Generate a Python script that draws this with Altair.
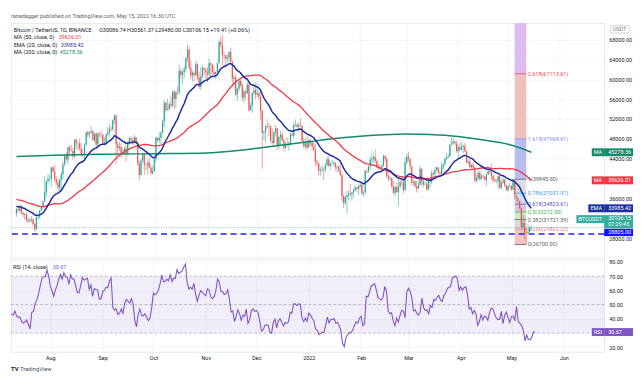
import altair as alt
import numpy as np
import pandas as pd

FONT = "Roboto"
FS = 5.5
INK = "#131722"
MUTED = "#5d606b"
UP = "#26a69a"
DOWN = "#ef5350"
MA50_C = "#f23645"
EMA20_C = "#1b2f9e"
MA200_C = "#168a6c"
RSI_C = "#7e57c2"

W = 597
H_PRICE = 236
H_RSI = 93

# ---------------- data ----------------
# closes 2021-05-20 .. 2021-07-08 (indicator warm-up only, not drawn)
warmup_close = [40600, 37290, 37520, 34660, 38800, 38320, 39240, 38430, 35660, 34600, 35660, 37290,
                36690, 37570, 39250, 36850, 35520, 35800, 33550, 33400, 37390, 36690, 37340, 35550,
                39020, 40520, 40140, 38350, 38090, 35820, 35480, 35600, 31680, 32510, 33680, 34660,
                31590, 32280, 34700, 34490, 35910, 35040,
                33540, 33820, 34700, 35290, 33690, 34220, 33860, 32880]

# daily candles 2021-07-09 .. 2022-05-15
close_jul = [33815, 33500, 34260, 33090, 32730, 32820, 31780, 31390, 31530, 31780, 30840, 29790, 32140, 32290, 33590, 34270, 35400, 37280, 39460, 40020, 40020, 42230, 41460]
high_jul = [34100, 34260, 34600, 34680, 33340, 33100, 33180, 32250, 31950, 32430, 31900, 31050, 32860, 32580, 33650, 34500, 35400, 40550, 39540, 40900, 40630, 42320, 42600]
low_jul = [32260, 33000, 33330, 32700, 32200, 31600, 31130, 31020, 31170, 31110, 30400, 29280, 29480, 31700, 31900, 33400, 33880, 35250, 36400, 38770, 39200, 38300, 41050]

close_aug = [39850, 39150, 38200, 39720, 40870, 42830, 44610, 43830, 46290, 45600, 45560, 44430, 47830, 47100, 47050, 45990, 44690, 44710, 46760, 49340, 48870, 49290, 49510, 47710, 48990, 46840, 49070, 48900, 48830, 47050, 47160]
high_aug = [42600, 40450, 39780, 39970, 41400, 43390, 44700, 45310, 46450, 46700, 46780, 46220, 47890, 48140, 47400, 48050, 47160, 46000, 47080, 49380, 49760, 49500, 50500, 49880, 49240, 49350, 49150, 49300, 49630, 48900, 48250]
low_aug = [39420, 38690, 37640, 37500, 37330, 39850, 42450, 43260, 42850, 44700, 45350, 43770, 44240, 45970, 45520, 45660, 44400, 44200, 43930, 46630, 48300, 48050, 49030, 47600, 47150, 46300, 46370, 48350, 48000, 46850, 46700]

close_sep = [48850, 49280, 50030, 49940, 51790, 52700, 46860, 46080, 46370, 44850, 45160, 46030, 44960, 47110, 48120, 47750, 47300, 48310, 47260, 43010, 40700, 43580, 44880, 42840, 42700, 43190, 42170, 41030, 41520, 43820]
high_sep = [49050, 50400, 51000, 50560, 51900, 52920, 52950, 47360, 47400, 47050, 45980, 46450, 46900, 47250, 48470, 48500, 48150, 48820, 48370, 47330, 43640, 44000, 44980, 45200, 42970, 43920, 44350, 42800, 42600, 44100]
low_sep = [46560, 48640, 48380, 49400, 49500, 50950, 42840, 44400, 45500, 44140, 44730, 44760, 43370, 44650, 46700, 47020, 46750, 47050, 46850, 42500, 39600, 40570, 43100, 40680, 41650, 40800, 42100, 40880, 40750, 41400]

close_oct = [48140, 47710, 48200, 49220, 51470, 55320, 53810, 53970, 54950, 54660, 57470, 56000, 57370, 57360, 61670, 60870, 61530, 62040, 64280, 66000, 62210, 60690, 61290, 60860, 63080, 60330, 58460, 60590, 62250, 61880, 61320]
high_oct = [48500, 48360, 49300, 49500, 51880, 55750, 55330, 56100, 55480, 56560, 57840, 57680, 57780, 58530, 62900, 62350, 61720, 62700, 64490, 67000, 66640, 63730, 61750, 61490, 63710, 63290, 61500, 62500, 62980, 62360, 62400]
low_oct = [43290, 47420, 47100, 46940, 49050, 50400, 53360, 53650, 53700, 54110, 54410, 53880, 54180, 56820, 56850, 60150, 58960, 60100, 61320, 63480, 62000, 60000, 59650, 59500, 60650, 59820, 58000, 57820, 60170, 60720, 59950]

close_nov = [61000, 63230, 62940, 61440, 61010, 61530, 63270, 67530, 66940, 64880, 64770, 64130, 64380, 65520, 63590, 60100, 60360, 56900, 58060, 59700, 58680, 56280, 57540, 57160, 58960, 53730, 54720, 57270, 57800, 56950]
high_nov = [62440, 64270, 63520, 63130, 62600, 61560, 63290, 67790, 68530, 69000, 65600, 65000, 65000, 65550, 66400, 63600, 60800, 60980, 58350, 59850, 60000, 59280, 58000, 57850, 59390, 59180, 55280, 57450, 58870, 59250]
low_nov = [59400, 60620, 60380, 60720, 60740, 60080, 61400, 63100, 66380, 62820, 64100, 62280, 63360, 63600, 63400, 58570, 58370, 56470, 55600, 57460, 58500, 55600, 55320, 55830, 57000, 53500, 53610, 53260, 56720, 55880]

close_dec = [57180, 56480, 53600, 49150, 49400, 50440, 50590, 50470, 47540, 47140, 49390, 50100, 46700, 48340, 48860, 47630, 46130, 46830, 46680, 46910, 48920, 48620, 50800, 50820, 50420, 50780, 50700, 47540, 46460, 47120, 46220]
high_dec = [59040, 57460, 57640, 53850, 49700, 50880, 51940, 51200, 50800, 50100, 49490, 50770, 50200, 48700, 49500, 49450, 47980, 47350, 48300, 47540, 49330, 49580, 51380, 51870, 51150, 51280, 52090, 50700, 48120, 47900, 48550]
low_dec = [56460, 55840, 51680, 42000, 47730, 47100, 50040, 48600, 47320, 46850, 46620, 48630, 45670, 46000, 46550, 47510, 45460, 45930, 46400, 45550, 46630, 48420, 48050, 50400, 50180, 49420, 50450, 47320, 46100, 45900, 45680]

close_jan = [47720, 47290, 46440, 45830, 43430, 43080, 41550, 41680, 41860, 41820, 42730, 43900, 42560, 43070, 43080, 43200, 42250, 42370, 41660, 40680, 36450, 35070, 36280, 36650, 36950, 36810, 37160, 37710, 38170, 37920, 38480]
high_jan = [47950, 47990, 47570, 47500, 47070, 43750, 43150, 42300, 42790, 42250, 43100, 44320, 44460, 43440, 43800, 43480, 43180, 42680, 42580, 43500, 41100, 36840, 36500, 37550, 37550, 38920, 37230, 38000, 38720, 38360, 38740]
low_jan = [46210, 46650, 45700, 45500, 42500, 42430, 40610, 40500, 41200, 39650, 41270, 42450, 42310, 41730, 42570, 42600, 41540, 41250, 41140, 40550, 35440, 34010, 34600, 32920, 35700, 36230, 35500, 36150, 37350, 37350, 36630]

close_feb = [38740, 36950, 37150, 41500, 41410, 42410, 43840, 44040, 44370, 43510, 42390, 42210, 42050, 42540, 44580, 43960, 40540, 40000, 40120, 38380, 37070, 38280, 37260, 38330, 39220, 39120, 37700, 43190]
high_feb = [39270, 38850, 37390, 41770, 41950, 42650, 44500, 45490, 44800, 45820, 43920, 43000, 42760, 42880, 44770, 44580, 44200, 40960, 40460, 40150, 39490, 38440, 39250, 39840, 39690, 40300, 39850, 44230]
low_feb = [38000, 36600, 36250, 36970, 40950, 41120, 41650, 42670, 43120, 43200, 42000, 41740, 41860, 41570, 42430, 43310, 40080, 39450, 39640, 38000, 36800, 36350, 37040, 34320, 38000, 38570, 37000, 37450]

close_mar = [44420, 43920, 42450, 39150, 39400, 38420, 37990, 38730, 41940, 39440, 38730, 38810, 37780, 39670, 39280, 41110, 40920, 41760, 42200, 41260, 41000, 42360, 42890, 43960, 44350, 44500, 46820, 47130, 47430, 47060, 45510]
high_mar = [44950, 45400, 44100, 42500, 39720, 39680, 39550, 39380, 42600, 42050, 40240, 39490, 39310, 39950, 39890, 41720, 41480, 42330, 42400, 42300, 41550, 43360, 43000, 44220, 45100, 44820, 46920, 48190, 48100, 47700, 47600]
low_mar = [42800, 43330, 41830, 38550, 38580, 38090, 37160, 37850, 38660, 38540, 38220, 38660, 37580, 37600, 38100, 38830, 40500, 40130, 41500, 40900, 40500, 40890, 41750, 42560, 43600, 44070, 44420, 46660, 46950, 46550, 45200]

close_apr = [46280, 45810, 46410, 46580, 45500, 43170, 43440, 42250, 42750, 42160, 39530, 40070, 41150, 39940, 40550, 40380, 39680, 40800, 41490, 41360, 40480, 39710, 39450, 39450, 40430, 38110, 39240, 39740, 38600, 37630]
high_apr = [46720, 47210, 47440, 46890, 47200, 45510, 43900, 43970, 42800, 43420, 42410, 40700, 41560, 41500, 40870, 40710, 40600, 41000, 41760, 42200, 42980, 40800, 39980, 39920, 40600, 40800, 39450, 40370, 39900, 38790]
low_apr = [44200, 45630, 45520, 45120, 45350, 43120, 42730, 42110, 42130, 42000, 39200, 39250, 39540, 39560, 39770, 40020, 39550, 38540, 40570, 40820, 39770, 39180, 39290, 39000, 38200, 37700, 37880, 38880, 38200, 37580]

close_may = [38470, 38520, 37720, 39690, 36550, 36010, 35470, 34060, 30100, 31010, 29080, 28940, 29280, 30086.74, 30106.15]
high_may = [38670, 39170, 38650, 39980, 39845, 36650, 36130, 35500, 34240, 32660, 32160, 30030, 30980, 30350, 30561.37]
low_may = [37390, 38050, 37500, 37670, 35560, 35260, 34750, 33710, 30030, 29730, 27780, 26700, 28700, 28650, 29480]

close = close_jul + close_aug + close_sep + close_oct + close_nov + close_dec + close_jan + close_feb + close_mar + close_apr + close_may
high = high_jul + high_aug + high_sep + high_oct + high_nov + high_dec + high_jan + high_feb + high_mar + high_apr + high_may
low = low_jul + low_aug + low_sep + low_oct + low_nov + low_dec + low_jan + low_feb + low_mar + low_apr + low_may

# 200-day MA
ma200_dates = ["2021-07-09", "2021-08-01", "2021-09-01", "2021-10-01", "2021-11-01", "2021-11-15", "2021-12-01",
               "2021-12-15", "2022-01-01", "2022-01-15", "2022-02-01", "2022-02-15", "2022-03-01", "2022-03-15",
               "2022-04-01", "2022-04-15", "2022-05-01", "2022-05-08", "2022-05-15"]
ma200_vals = [44450, 44700, 44900, 45000, 45150, 45500, 46100, 46700, 47400, 48000, 48500, 48800, 48950, 48850,
              48450, 47800, 46900, 46200, 45278.36]

# Fibonacci drawing
fib_start, fib_end = "2022-05-05", "2022-05-12"
fib_names = ["0", "0.236", "0.382", "0.5", "0.618", "0.786", "1", "1.618", "2.618", "3.618"]
fib_prices = [26700.00, 29802.22, 31721.39, 33272.50, 34823.61, 37031.97, 39845.00, 47968.61, 61113.61, 74258.61]
fib_line_colors = ["#5d606b", "#ef7d86", "#5d606b", "#4caf50", "#5e4bb0", "#3d9be0", "#5d606b", "#8f92e8", "#e8474f"]
fib_fills = ["#f3c3c4", "#dadada", "#c9eac9", "#cfc9e9", "#c4e1f5", "#dddddd", "#b9bcef", "#f0c0c1", "#dcbdf0"]

support_price = 28805.00
last_price = 30106.15
countdown = "07:29:45"
ma50_last, ema20_last, ma200_last = 39626.01, 33985.42, 45278.36
rsi_last = 30.67
rsi_levels = [70, 50, 30]
rsi_band = (30, 70)

title_text = "ranadagger published on TradingView.com, May 15, 2022 16:30 UTC"
symbol_text = "Bitcoin / TetherUS, 1D, BINANCE"
ohlc_text = "O30086.74 H30561.37 L29480.00 C30106.15 +19.41 (+0.06%)"

# ---------------- derived series ----------------
all_close = warmup_close + close
idx = pd.date_range("2021-05-20", periods=len(all_close), freq="D")
s = pd.Series(all_close, index=idx, dtype=float)
ema20 = s.ewm(span=20, adjust=False).mean()
ma50 = s.rolling(50).mean()
dlt = s.diff()
gain = dlt.clip(lower=0)
loss = (-dlt).clip(lower=0)
rs = gain.ewm(alpha=1 / 14, adjust=False).mean() / loss.ewm(alpha=1 / 14, adjust=False).mean()
rsi = 100 - 100 / (1 + rs)
opens = s.shift(1)

n = len(close)
df = pd.DataFrame({
    "date": idx[-n:].strftime("%Y-%m-%d"),
    "open": opens.values[-n:],
    "close": close,
    "high": high,
    "low": low,
    "ema20": ema20.values[-n:],
    "ma50": ma50.values[-n:],
    "rsi": rsi.values[-n:],
})
df["high"] = df[["high", "open", "close"]].max(axis=1)
df["low"] = df[["low", "open", "close"]].min(axis=1)
df["dir"] = np.where(df["close"] >= df["open"], "up", "down")

ma200_df = pd.DataFrame({"date": ma200_dates, "ma200": ma200_vals})

fib_zone_df = pd.DataFrame({
    "x0": [fib_start] * 9, "x1": [fib_end] * 9,
    "lo": fib_prices[:-1], "hi": fib_prices[1:], "c": fib_fills,
})
fib_line_df = pd.DataFrame({
    "x0": [fib_start] * 9, "x1": [fib_end] * 9,
    "p": fib_prices[:-1], "c": fib_line_colors,
    "t": [f"{nm}({p:.2f})" for nm, p in zip(fib_names[:-1], fib_prices[:-1])],
})

# ---------------- scales / axes ----------------
x_dom = [alt.DateTime(year=2021, month=7, date=8, hours=16, minutes=48, utc=True),
         alt.DateTime(year=2022, month=6, date=24, hours=21, minutes=36, utc=True)]
xscale = alt.Scale(type="utc", domain=x_dom)
month_ticks = [alt.DateTime(year=y, month=m, date=1, utc=True)
               for y, m in [(2021, 8), (2021, 9), (2021, 10), (2021, 11), (2021, 12), (2022, 1),
                            (2022, 2), (2022, 3), (2022, 4), (2022, 5), (2022, 6)]]
label_expr = "utcFormat(datum.value, '%m') == '01' ? utcFormat(datum.value, '%Y') : utcFormat(datum.value, '%b')"

px_axis = alt.Axis(values=month_ticks, labels=False, ticks=False, domain=False, grid=True, title=None, zindex=0)
rx_axis = alt.Axis(values=month_ticks, labelExpr=label_expr, ticks=False, domain=False, grid=True, title=None,
                   labelPadding=4, labelAngle=0, labelOverlap=False, zindex=0)

yscale = alt.Scale(domain=[24060, 71320], nice=False, zero=False)
py_axis = alt.Axis(orient="right", values=list(range(28000, 68001, 4000)), format=".2f", ticks=False,
                   domain=False, grid=True, title=None, labelPadding=4.5, zindex=0)
rscale = alt.Scale(domain=[16.7, 81.6], nice=False, zero=False)
ry_axis = alt.Axis(orient="right", values=[20, 30, 40, 50, 60, 70, 80], format=".2f", ticks=False,
                   domain=False, grid=True, title=None, labelPadding=4.5, zindex=0)


def PX(f="date"):
    return alt.X(f"{f}:T", scale=xscale, axis=px_axis)


def RX(f="date"):
    return alt.X(f"{f}:T", scale=xscale, axis=rx_axis)


def PY(f):
    return alt.Y(f"{f}:Q", scale=yscale, axis=py_axis)


def RY(f):
    return alt.Y(f"{f}:Q", scale=rscale, axis=ry_axis)


def txt(s_, x, y, color=INK, size=FS, weight="normal", align="left"):
    return alt.Chart(pd.DataFrame({"t": [s_]})).mark_text(
        align=align, baseline="middle", font=FONT, fontSize=size, fontWeight=weight, color=color
    ).encode(text="t:N", x=alt.value(x), y=alt.value(y))


def pbox(price, x0, x1, color, h=8, yoff=0.0, Yf=PY):
    return alt.Chart(pd.DataFrame({"p": [price]})).mark_tick(
        orient="horizontal", size=x1 - x0, thickness=h, color=color, opacity=1, yOffset=yoff
    ).encode(x=alt.value((x0 + x1) / 2), y=Yf("p"))


def ptxt(price, label, x, color="white", yoff=0.0, Yf=PY, align="left"):
    return alt.Chart(pd.DataFrame({"p": [price], "t": [label]})).mark_text(
        align=align, baseline="middle", font=FONT, fontSize=FS, color=color, dy=yoff
    ).encode(x=alt.value(x), y=Yf("p"), text="t:N")


# ---------------- price pane ----------------
base = alt.Chart(df)
dir_color = alt.Color("dir:N", scale=alt.Scale(domain=["up", "down"], range=[UP, DOWN]), legend=None)

fib_zones = alt.Chart(fib_zone_df).mark_rect(clip=True).encode(
    x=PX("x0"), x2="x1", y=PY("lo"), y2="hi", color=alt.Color("c:N", scale=None))
fib_lines = alt.Chart(fib_line_df).mark_rule(strokeWidth=0.8).encode(
    x=PX("x0"), x2="x1", y=PY("p"), color=alt.Color("c:N", scale=None))
fib_labels = alt.Chart(fib_line_df).mark_text(align="left", baseline="middle", dx=1.5, font=FONT, fontSize=FS).encode(
    x=PX("x1"), y=PY("p"), text="t:N", color=alt.Color("c:N", scale=None))

support = alt.Chart(pd.DataFrame({"p": [support_price]})).mark_rule(
    color="#2424f0", strokeWidth=1.6, strokeDash=[6, 4]).encode(y=PY("p"))
lastline = alt.Chart(pd.DataFrame({"p": [last_price]})).mark_rule(
    color=UP, strokeWidth=0.6, strokeDash=[1, 1.5]).encode(y=PY("p"))

wick = base.mark_rule(strokeWidth=0.55).encode(x=PX(), y=PY("low"), y2="high", color=dir_color)
body = base.mark_bar(size=1.15).encode(x=PX(), y=PY("open"), y2="close", color=dir_color)

ma200_line = alt.Chart(ma200_df).mark_line(color=MA200_C, strokeWidth=1.5, interpolate="monotone").encode(
    x=PX(), y=PY("ma200"))
ma50_line = base.mark_line(color=MA50_C, strokeWidth=1.3).encode(x=PX(), y=PY("ma50"))
ema_line = base.mark_line(color=EMA20_C, strokeWidth=1.5).encode(x=PX(), y=PY("ema20"))

price_texts = [
    txt(title_text, 0, -6.7, color=MUTED),
    txt(symbol_text, 2.7, 6.6),
    txt(ohlc_text, 88.7, 6.6),
    txt("MA (50, close, 0)", 2.7, 14.0), txt(f"{ma50_last:.2f}", 48, 14.0, color=MA50_C),
    txt("EMA (20, close, 0)", 2.7, 21.6), txt(f"{ema20_last:.2f}", 50, 21.6, color=EMA20_C),
    txt("MA (200, close, 0)", 2.7, 29.3), txt(f"{ma200_last:.2f}", 49, 29.3, color=MA200_C),
]

AX = W  # right edge of plot
VR = 626  # right end of value boxes
right_labels = [
    pbox(ma200_last, AX - 12.5, AX, MA200_C), pbox(ma200_last, AX, VR, MA200_C),
    ptxt(ma200_last, "MA", AX - 6.25, align="center"), ptxt(ma200_last, f"{ma200_last:.2f}", AX + 4),
    pbox(ma50_last, AX - 12.5, AX, MA50_C), pbox(ma50_last, AX, VR, MA50_C),
    ptxt(ma50_last, "MA", AX - 6.25, align="center"), ptxt(ma50_last, f"{ma50_last:.2f}", AX + 4),
    pbox(ema20_last, AX - 16, AX, EMA20_C), pbox(ema20_last, AX, VR, EMA20_C),
    ptxt(ema20_last, "EMA", AX - 8, align="center"), ptxt(ema20_last, f"{ema20_last:.2f}", AX + 4),
    pbox(last_price, AX - 28, AX, "#35ad9c", h=8, yoff=-8.5), pbox(last_price, AX, VR, "#35ad9c", h=13, yoff=-6),
    ptxt(last_price, "BTCUSDT", AX - 14, align="center", yoff=-8.5),
    ptxt(last_price, f"{last_price:.2f}", AX + 4, yoff=-9.2), ptxt(last_price, countdown, AX + 4, yoff=-3.4),
    pbox(support_price, AX, VR, "#1010ff", h=7.5, yoff=-1.6),
    ptxt(support_price, f"{support_price:.2f}", AX + 4, yoff=-1.6),
]
usdt_box = alt.Chart(pd.DataFrame({"t": ["USDT"]})).mark_rect(
    fill="white", stroke="#b2b5be", strokeWidth=0.6, cornerRadius=1.5).encode(
    x=alt.value(AX + 6), x2=alt.value(AX + 25), y=alt.value(2.6), y2=alt.value(10))
usdt_txt = txt("USDT", AX + 15.5, 6.3, color="#787b86", align="center")

price = alt.layer(
    fib_zones, fib_lines, fib_labels, support, lastline, wick, body,
    ma200_line, ma50_line, ema_line, *price_texts, *right_labels, usdt_box, usdt_txt
).resolve_scale(color="independent").properties(width=W, height=H_PRICE)

# ---------------- RSI pane ----------------
band = alt.Chart(pd.DataFrame({"lo": [rsi_band[0]], "hi": [rsi_band[1]]})).mark_rect(
    color=RSI_C, opacity=0.1).encode(y=RY("lo"), y2="hi", x=alt.value(0), x2=alt.value(W))
lvl = alt.Chart(pd.DataFrame({"v": rsi_levels})).mark_rule(
    color="#9598a1", strokeWidth=0.6, strokeDash=[2.5, 2.5]).encode(y=RY("v"))
rsi_line = alt.Chart(df).mark_line(color=RSI_C, strokeWidth=1.1).encode(x=RX(), y=RY("rsi"))
rsi_texts = [
    txt("RSI (14, close)", 2, 7.3),
    txt(f"{rsi_last:.2f}", 42, 7.3, color=RSI_C),
    pbox(rsi_last, AX - 12.5, AX, RSI_C, Yf=RY), pbox(rsi_last, AX, VR, RSI_C, Yf=RY),
    ptxt(rsi_last, "RSI", AX - 6.25, align="center", Yf=RY), ptxt(rsi_last, f"{rsi_last:.2f}", AX + 4, Yf=RY),
    txt("TV", 0, 110.5, color=INK, size=6, weight="bold"),
    txt("TradingView", 9, 110.5, color="#4a4e5a", size=5.8),
]
rsi_pane = alt.layer(band, lvl, rsi_line, *rsi_texts).properties(width=W, height=H_RSI)

chart = alt.vconcat(price, rsi_pane, spacing=0).properties(
    padding={"left": 0, "top": 4, "right": 0, "bottom": 0}
).configure_view(stroke="#e0e3eb", strokeWidth=0.8).configure_axis(
    labelFont=FONT, labelFontSize=FS, labelColor=INK, gridColor="#eef0f4", gridWidth=0.6
)

chart.save("out.html", embed_options={"renderer": "svg", "actions": False})
